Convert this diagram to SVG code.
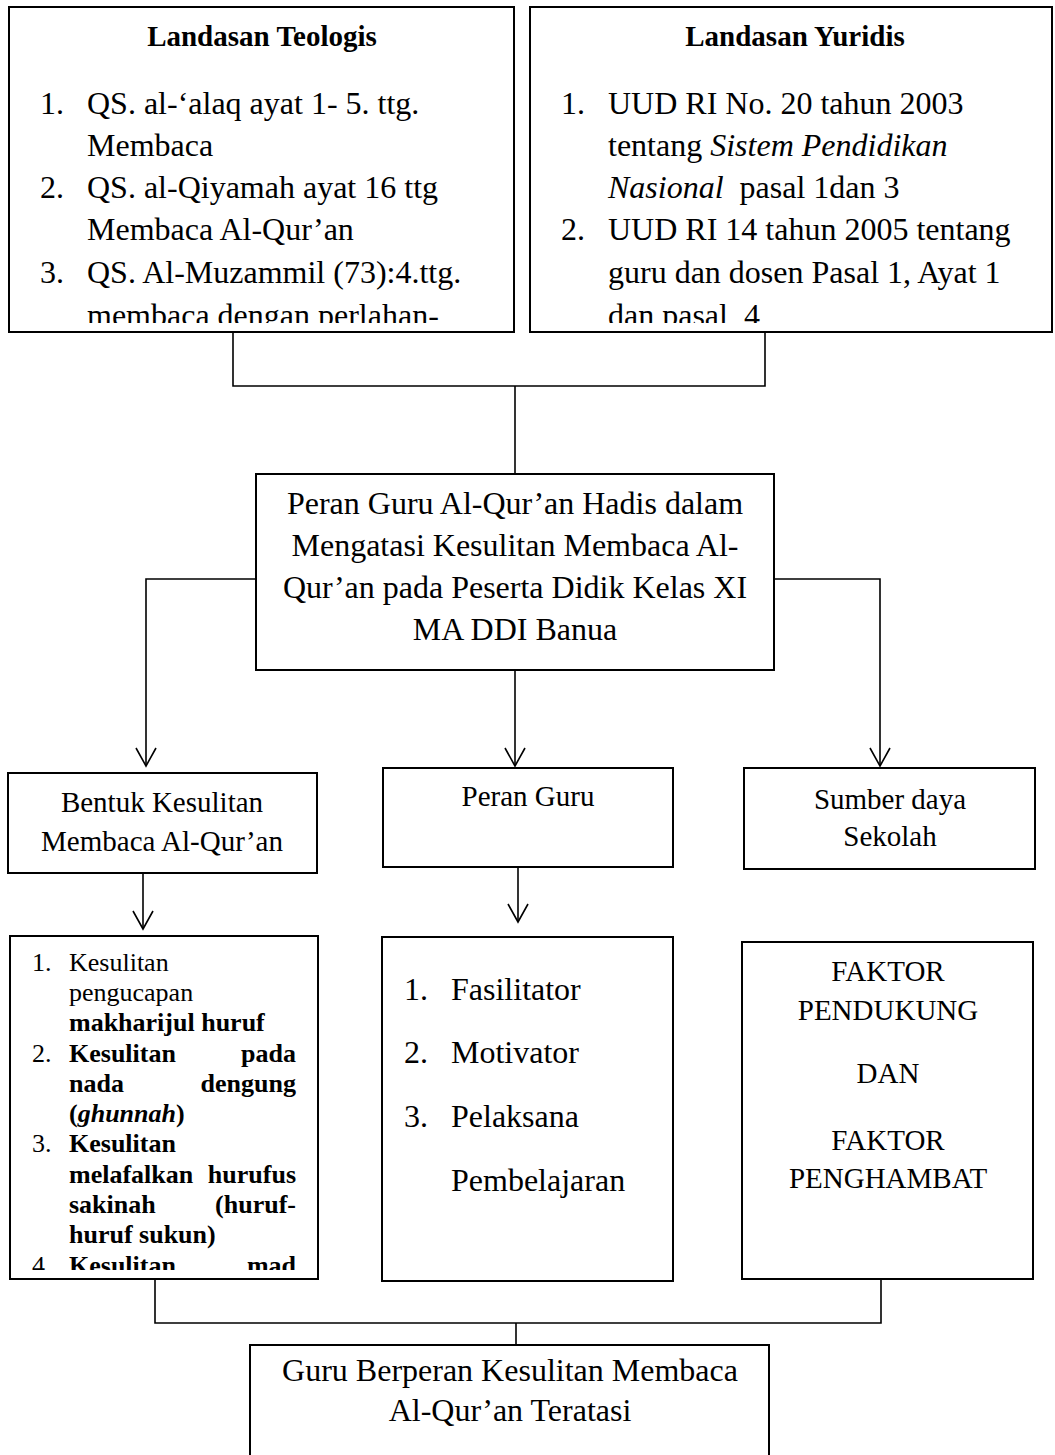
<svg xmlns="http://www.w3.org/2000/svg" width="1055" height="1455" viewBox="0 0 1055 1455">
<style>
text { font-family: "Liberation Serif", "Times New Roman", serif; fill: #000; }
.box { fill: #fff; stroke: #000; stroke-width: 2; }
.ln { fill: none; stroke: #000; stroke-width: 1.6; }
.t32 { font-size: 32px; }
.t29 { font-size: 29px; }
.t26 { font-size: 26px; }
.h { font-size: 29px; font-weight: bold; }
.b { font-weight: bold; }
.i { font-style: italic; }
.c { text-anchor: middle; }
.e { text-anchor: end; }
</style>
<defs>
<marker id="arr" markerUnits="userSpaceOnUse" markerWidth="24" markerHeight="24" viewBox="-20 -12 24 24" refX="0" refY="0" orient="auto">
<path d="M-18,-10 L0,0 L-18,10" fill="none" stroke="#000" stroke-width="1.6"/>
</marker>
<clipPath id="clipTL"><rect x="9" y="7" width="505" height="316"/></clipPath>
<clipPath id="clipTR"><rect x="530" y="7" width="522" height="316"/></clipPath>
<clipPath id="clipBL"><rect x="10" y="936" width="308" height="334"/></clipPath>
</defs>
<rect width="1055" height="1455" fill="#fff"/>

<g id="connectors">
<polyline class="ln" points="233,333 233,386 765,386 765,333"/>
<line class="ln" x1="515" y1="386" x2="515" y2="474"/>
<polyline class="ln" points="256,579 146,579 146,766" marker-end="url(#arr)"/>
<line class="ln" x1="515" y1="670" x2="515" y2="766" marker-end="url(#arr)"/>
<polyline class="ln" points="774,579 880,579 880,766" marker-end="url(#arr)"/>
<line class="ln" x1="143" y1="873" x2="143" y2="929" marker-end="url(#arr)"/>
<line class="ln" x1="518" y1="867" x2="518" y2="922" marker-end="url(#arr)"/>
<polyline class="ln" points="155,1279 155,1323 881,1323 881,1279"/>
<line class="ln" x1="516" y1="1323" x2="516" y2="1345"/>
</g>

<g id="landasan-teologis">
<rect class="box" x="9" y="7" width="505" height="325"/>
<text class="h c" x="262" y="46">Landasan Teologis</text>
<g clip-path="url(#clipTL)" class="t32">
<text x="40" y="114">1.</text><text x="87" y="114">QS. al-‘alaq ayat 1- 5. ttg.</text>
<text x="87" y="156">Membaca</text>
<text x="40" y="198">2.</text><text x="87" y="198">QS. al-Qiyamah ayat 16 ttg</text>
<text x="87" y="240">Membaca Al-Qur’an</text>
<text x="40" y="283">3.</text><text x="87" y="283">QS. Al-Muzammil (73):4.ttg.</text>
<text x="87" y="326">membaca dengan perlahan-</text>
</g>
</g>

<g id="landasan-yuridis">
<rect class="box" x="530" y="7" width="522" height="325"/>
<text class="h c" x="795" y="46">Landasan Yuridis</text>
<g clip-path="url(#clipTR)" class="t32">
<text x="561" y="114">1.</text><text x="608" y="114">UUD RI No. 20 tahun 2003</text>
<text x="608" y="156">tentang <tspan class="i">Sistem Pendidikan</tspan></text>
<text x="608" y="198" xml:space="preserve"><tspan class="i">Nasional</tspan>  pasal 1dan 3</text>
<text x="561" y="240">2.</text><text x="608" y="240">UUD RI 14 tahun 2005 tentang</text>
<text x="608" y="283">guru dan dosen Pasal 1, Ayat 1</text>
<text x="608" y="326" xml:space="preserve">dan pasal  4</text>
</g>
</g>

<g id="peran-guru-utama">
<rect class="box" x="256" y="474" width="518" height="196"/>
<text class="t32 c" x="515" y="514">Peran Guru Al-Qur’an Hadis dalam</text>
<text class="t32 c" x="515" y="556">Mengatasi Kesulitan Membaca Al-</text>
<text class="t32 c" x="515" y="598">Qur’an pada Peserta Didik Kelas XI</text>
<text class="t32 c" x="515" y="640">MA DDI Banua</text>
</g>

<g id="bentuk-kesulitan">
<rect class="box" x="8" y="773" width="309" height="100"/>
<text class="t29 c" x="162" y="812">Bentuk Kesulitan</text>
<text class="t29 c" x="162" y="851">Membaca Al-Qur’an</text>
</g>

<g id="peran-guru">
<rect class="box" x="383" y="768" width="290" height="99"/>
<text class="t29 c" x="528" y="806">Peran Guru</text>
</g>

<g id="sumber-daya">
<rect class="box" x="744" y="768" width="291" height="101"/>
<text class="t29 c" x="890" y="809">Sumber daya</text>
<text class="t29 c" x="890" y="846">Sekolah</text>
</g>

<g id="daftar-kesulitan">
<rect class="box" x="10" y="936" width="308" height="343"/>
<g clip-path="url(#clipBL)" class="t26">
<text x="32" y="971">1.</text><text x="69" y="971">Kesulitan</text>
<text x="69" y="1001">pengucapan</text>
<text class="b" x="69" y="1031">makharijul huruf</text>
<text x="32" y="1062">2.</text><text class="b" x="69" y="1062">Kesulitan</text><text class="b e" x="296" y="1062">pada</text>
<text class="b" x="69" y="1092">nada</text><text class="b e" x="296" y="1092">dengung</text>
<text class="b" x="69" y="1122">(<tspan class="i">ghunnah</tspan>)</text>
<text x="32" y="1152">3.</text><text class="b" x="69" y="1152">Kesulitan</text>
<text class="b" x="69" y="1183">melafalkan</text><text class="b e" x="296" y="1183">hurufus</text>
<text class="b" x="69" y="1213">sakinah</text><text class="b e" x="296" y="1213">(huruf-</text>
<text class="b" x="69" y="1243">huruf sukun)</text>
<text x="32" y="1274">4.</text><text class="b" x="69" y="1274">Kesulitan</text><text class="b e" x="296" y="1274">mad</text>
</g>
</g>

<g id="daftar-peran">
<rect class="box" x="382" y="937" width="291" height="344"/>
<text class="t32" x="404" y="1000">1.</text><text class="t32" x="451" y="1000">Fasilitator</text>
<text class="t32" x="404" y="1063">2.</text><text class="t32" x="451" y="1063">Motivator</text>
<text class="t32" x="404" y="1127">3.</text><text class="t32" x="451" y="1127">Pelaksana</text>
<text class="t32" x="451" y="1191">Pembelajaran</text>
</g>

<g id="faktor">
<rect class="box" x="742" y="942" width="291" height="337"/>
<text class="t29 c" x="888" y="981">FAKTOR</text>
<text class="t29 c" x="888" y="1020">PENDUKUNG</text>
<text class="t29 c" x="888" y="1083">DAN</text>
<text class="t29 c" x="888" y="1150">FAKTOR</text>
<text class="t29 c" x="888" y="1188">PENGHAMBAT</text>
</g>

<g id="hasil">
<rect class="box" x="250" y="1345" width="519" height="120"/>
<text class="t32 c" x="510" y="1381">Guru Berperan Kesulitan Membaca</text>
<text class="t32 c" x="510" y="1421">Al-Qur’an Teratasi</text>
</g>
</svg>
